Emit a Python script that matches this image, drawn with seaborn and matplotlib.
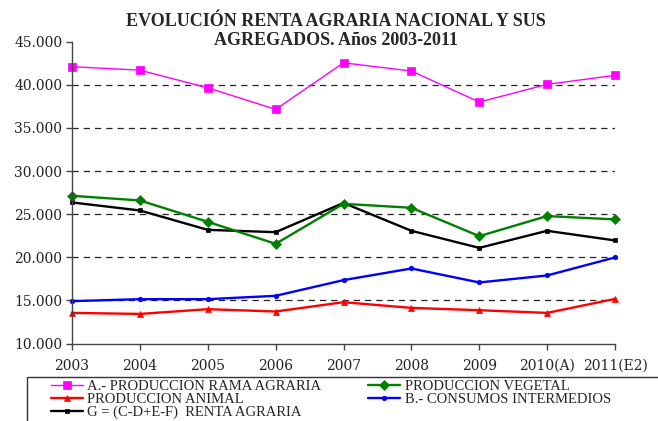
import matplotlib
matplotlib.use("Agg")
import matplotlib.pyplot as plt
import seaborn as sns
import pandas as pd
import numpy as np
from matplotlib.patches import Rectangle

years = ["2003", "2004", "2005", "2006", "2007", "2008", "2009", "2010(A)", "2011(E2)"]
prod_rama = [42100, 41700, 39650, 37150, 42550, 41600, 38000, 40050, 41100]
prod_vegetal = [27130, 26590, 24110, 21560, 26200, 25740, 22450, 24780, 24390]
prod_animal = [13550, 13430, 13980, 13710, 14790, 14130, 13860, 13550, 15170]
consumos = [14910, 15140, 15140, 15530, 17350, 18700, 17080, 17890, 19980]
renta = [26360, 25430, 23180, 22910, 26300, 23070, 21090, 23070, 21950]

labels = {
    "rama": "A.- PRODUCCION RAMA AGRARIA",
    "animal": "PRODUCCION ANIMAL",
    "renta": "G = (C-D+E-F)  RENTA AGRARIA",
    "vegetal": "PRODUCCION VEGETAL",
    "consumos": "B.- CONSUMOS INTERMEDIOS",
}
title = "EVOLUCIÓN RENTA AGRARIA NACIONAL Y SUS\nAGREGADOS. Años 2003-2011"
yticks = [10000, 15000, 20000, 25000, 30000, 35000, 40000, 45000]

sns.set_style("white")
plt.rcParams["font.family"] = ["DejaVu Serif"]

fig = plt.figure(figsize=(6.58, 4.21), dpi=100)
ax = fig.add_axes([72 / 658, 1 - 343.5 / 421, (615 - 72) / 658, (343.5 - 41.7) / 421])

x = np.arange(len(years))
df = pd.DataFrame({"x": x, "rama": prod_rama, "vegetal": prod_vegetal,
                   "animal": prod_animal, "consumos": consumos, "renta": renta})

styles = {
    "rama": dict(color="#FF00FF", marker="s", markersize=5.8, linewidth=1.0),
    "vegetal": dict(color="#008000", marker="D", markersize=5.2, linewidth=1.7),
    "animal": dict(color="#FF0000", marker="^", markersize=5, linewidth=1.7),
    "consumos": dict(color="#0000FF", marker="o", markersize=3.3, linewidth=1.7),
    "renta": dict(color="#000000", marker="s", markersize=3.3, linewidth=1.7),
}
draw_order = ["consumos", "animal", "renta", "vegetal", "rama"]
handles = {}
for key in draw_order:
    st = styles[key]
    sns.lineplot(data=df, x="x", y=key, ax=ax, color=st["color"], marker=st["marker"],
                 markersize=st["markersize"], linewidth=st["linewidth"],
                 markeredgecolor=st["color"], markeredgewidth=0.5, clip_on=False,
                 label=labels[key], legend=False)
    handles[key] = ax.lines[-1]

ax.set_xlim(0, len(years) - 1)
ax.set_ylim(10000, 45000)
ax.set_yticks(yticks)
ax.set_yticklabels([f"{v:,.0f}".replace(",", ".") for v in yticks])
ax.set_xticks(x)
ax.set_xticklabels(years)
ax.set_xlabel("")
ax.set_ylabel("")

for v in yticks[1:-1]:
    ax.axhline(v, color="#222222", linewidth=0.9, linestyle=(0, (5, 4)), zorder=0.5)

for s in ["top", "right"]:
    ax.spines[s].set_visible(False)
for s in ["left", "bottom"]:
    ax.spines[s].set_color("#444444")
    ax.spines[s].set_linewidth(1.0)
ax.tick_params(axis="y", direction="out", length=4, width=1, color="#444444",
               pad=3, labelsize=10, labelcolor="#222222", left=True)
ax.tick_params(axis="x", direction="out", length=4, width=1, color="#444444",
               pad=7, labelsize=10, labelcolor="#222222", bottom=True)

fig.text(336 / 658, 1 - 31 / 421, title, ha="center", va="center",
         fontsize=13, fontweight="bold", family=["Liberation Serif"], linespacing=1.2)

order = ["rama", "animal", "renta", "vegetal", "consumos"]
leg = fig.legend([handles[k] for k in order], [labels[k] for k in order],
                 loc="upper left", bbox_to_anchor=(51 / 658, 1 - 379.5 / 421),
                 ncol=2, frameon=False, borderpad=0, borderaxespad=0,
                 handlelength=2.2, handletextpad=0.3, columnspacing=3.2,
                 labelspacing=0.0, prop={"family": "Liberation Serif", "size": 10.5})

fig.patches.append(Rectangle((27 / 658, -0.1), 1.0, 1 - 377 / 421 + 0.1,
                             transform=fig.transFigure, fill=False,
                             edgecolor="#333333", linewidth=1.0, clip_on=False))

fig.savefig("out.png", dpi=100)
